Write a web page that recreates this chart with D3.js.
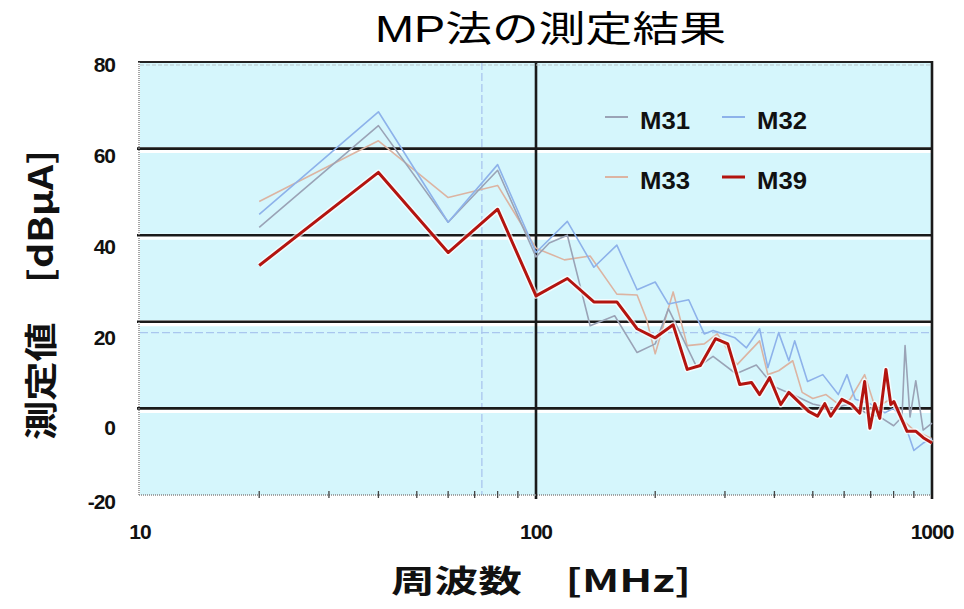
<!DOCTYPE html>
<html>
<head>
<meta charset="utf-8">
<script src="https://cdn.jsdelivr.net/npm/d3@7"></script>
<style>
  html, body { margin: 0; padding: 0; background: #ffffff; }
  svg { display: block; }
</style>
</head>
<body>
<svg id="chart" width="964" height="609"></svg>
<script>
// ---------------- DATA ----------------
const titleText = "MP法の測定結果";
const yTitle = "測定値　[dBμA]";
const xTitle = "周波数　[MHz]";

const xDomain = [10, 1000];
const yDomain = [-20, 80];
const yTickValues = [80, 60, 40, 20, 0, -20];
const yGridValues = [60, 40, 20, 0];
const xTickLabels = [10, 100, 1000];
const xMinorTicks = [20, 30, 40, 50, 60, 70, 80, 90, 200, 300, 400, 500, 600, 700, 800, 900];
const refFreq = 73;      // dashed blue vertical reference
const refLevel = 17.5;   // dashed blue horizontal reference

const seriesNames = ["M31", "M32", "M33", "M39"];

const m31Freq = [20, 40, 60, 80, 100, 108, 120, 137, 158, 180, 200, 216, 255, 280, 320, 360, 400, 450, 500, 560, 620, 680, 740, 800, 840, 855, 880, 910, 950, 1000];
const m31Val  = [41.8, 65.3, 43, 55, 35, 38.2, 40, 19.1, 21.4, 12.9, 14.9, 23, 9.4, 12, 8, 10, 5, 3, 1, 0, 1, -1, -2, -4, -2, 14.5, -2, 6.4, -5, -3.4];

const m32Freq = [20, 40, 60, 80, 100, 120, 140, 160, 180, 200, 216, 243, 266, 280, 318, 340, 367, 385, 410, 435, 450, 485, 530, 580, 610, 640, 700, 760, 800, 850, 900, 950, 1000];
const m32Val  = [44.8, 68.5, 43, 56.3, 36, 43.2, 32.6, 37.7, 27.4, 29.2, 24.1, 25.1, 17.2, 18, 16.3, 14, 18.4, 9.4, 17.5, 11, 15.6, 6.2, 7.8, 3.2, 7.8, 2.1, 1, -1, 0, -3, -9.7, -8, -7];

const m33Freq = [20, 40, 60, 80, 100, 118, 137, 160, 180, 190, 200, 222, 241, 266, 287, 322, 367, 385, 410, 445, 470, 500, 540, 580, 620, 676, 720, 780, 850, 900, 950, 1000];
const m33Val  = [47.8, 61.8, 48.7, 51.5, 37, 34.3, 35.2, 26.4, 26.2, 20.7, 12.6, 26.9, 14.5, 14.9, 17.2, 10.1, 15.6, 7.8, 8.7, 11, 3.7, 2.3, 3.2, 1, 2, 7.8, 0, 2, -3, -5, -6, -7];

const m39Freq = [20, 40, 60, 80, 100, 120, 140, 160, 180, 200, 222, 241, 260, 284, 305, 327, 350, 367, 389, 415, 435, 488, 514, 536, 555, 592, 627, 657, 676, 697, 717, 738, 765, 787, 801, 865, 911, 955, 1000];
const m39Val  = [33, 54.5, 36, 46, 26, 30, 24.6, 24.6, 18.4, 16.3, 19.3, 9, 9.9, 16.1, 14.9, 5.5, 6, 3.2, 7.1, 0.9, 3.7, -0.7, -1.8, 1.1, -1.8, 2.1, 0.9, -1.1, 6.2, -4.6, 1.1, -2.3, 9, 0.9, 1.6, -5.3, -5.3, -6.9, -8];

const seriesColors = ["#9aa3b6", "#8db2ea", "#dcb4a2", "#b3140f"];
const seriesWidths = [1.6, 1.6, 1.6, 3];

// ---------------- LAYOUT ----------------
const svg = d3.select("#chart");
const plot = { left: 140, right: 932, top: 62, bottom: 495 };

const x = d3.scaleLog().domain(xDomain).range([plot.left, plot.right]);
const y = d3.scaleLinear().domain(yDomain).range([plot.bottom, plot.top]);
// tick labels in the original sit slightly off their gridlines
const yLabel = d3.scaleLinear().domain([-20, 0, 80]).range([502, 428, 65]);

// background
svg.append("rect")
  .attr("x", x(xDomain[0])).attr("y", y(yDomain[1]))
  .attr("width", x(xDomain[1]) - x(xDomain[0]))
  .attr("height", y(yDomain[0]) - y(yDomain[1]))
  .attr("fill", "#d5f6fc");

// dashed reference lines
svg.append("line")
  .attr("x1", x(xDomain[0])).attr("x2", x(xDomain[1]))
  .attr("y1", y(refLevel)).attr("y2", y(refLevel))
  .attr("stroke", "#a9c6ee").attr("stroke-width", 1.3)
  .attr("stroke-dasharray", "8,3");
svg.append("line")
  .attr("x1", x(refFreq)).attr("x2", x(refFreq))
  .attr("y1", y(yDomain[1])).attr("y2", y(yDomain[0]))
  .attr("stroke", "#a9c6ee").attr("stroke-width", 1.3)
  .attr("stroke-dasharray", "8,3");

// horizontal gridlines with white halo
const gridG = svg.append("g");
gridG.selectAll("line.halo").data(yGridValues).enter().append("line")
  .attr("class", "halo")
  .attr("x1", x(xDomain[0]) - 3).attr("x2", x(xDomain[1]))
  .attr("y1", d => y(d) + 1.5).attr("y2", d => y(d) + 1.5)
  .attr("stroke", "#ffffff").attr("stroke-width", 6);
gridG.selectAll("line.grid").data(yGridValues).enter().append("line")
  .attr("class", "grid")
  .attr("x1", x(xDomain[0]) - 3).attr("x2", x(xDomain[1]))
  .attr("y1", d => y(d)).attr("y2", d => y(d))
  .attr("stroke", "#1a1a1a").attr("stroke-width", 2.6);

// vertical line at 100 MHz
svg.append("line")
  .attr("x1", x(100)).attr("x2", x(100))
  .attr("y1", y(yDomain[1])).attr("y2", y(yDomain[0]) + 4)
  .attr("stroke", "#1a1a1a").attr("stroke-width", 2.6);

// borders
svg.append("line") // top
  .attr("x1", x(xDomain[0]) - 2).attr("x2", x(xDomain[1]))
  .attr("y1", y(yDomain[1])).attr("y2", y(yDomain[1]))
  .attr("stroke", "#222").attr("stroke-width", 2);
svg.append("line") // top dashed inner
  .attr("x1", x(xDomain[0])).attr("x2", x(xDomain[1]))
  .attr("y1", y(yDomain[1]) + 3).attr("y2", y(yDomain[1]) + 3)
  .attr("stroke", "#b8c4c8").attr("stroke-width", 1)
  .attr("stroke-dasharray", "4,2");
svg.append("line") // left dotted
  .attr("x1", x(xDomain[0]) - 1).attr("x2", x(xDomain[0]) - 1)
  .attr("y1", y(yDomain[1])).attr("y2", y(yDomain[0]))
  .attr("stroke", "#888").attr("stroke-width", 1.5)
  .attr("stroke-dasharray", "1,1");
svg.append("line") // bottom dotted
  .attr("x1", x(xDomain[0]) - 1).attr("x2", x(xDomain[1]))
  .attr("y1", y(yDomain[0])).attr("y2", y(yDomain[0]))
  .attr("stroke", "#888").attr("stroke-width", 1.5)
  .attr("stroke-dasharray", "1,1");
svg.append("line") // right
  .attr("x1", x(xDomain[1])).attr("x2", x(xDomain[1]))
  .attr("y1", y(yDomain[1]) - 1).attr("y2", y(yDomain[0]) + 4)
  .attr("stroke", "#1a1a1a").attr("stroke-width", 2.6);

// minor x ticks
svg.append("g").selectAll("line").data(xMinorTicks).enter().append("line")
  .attr("x1", d => x(d)).attr("x2", d => x(d))
  .attr("y1", y(yDomain[0]) - 4).attr("y2", y(yDomain[0]) + 3)
  .attr("stroke", "#444").attr("stroke-width", 1.3);

// series lines
const line = d3.line().x(d => x(d[0])).y(d => y(d[1]));
const freqs = [m31Freq, m32Freq, m33Freq, m39Freq];
const vals = [m31Val, m32Val, m33Val, m39Val];
const drawOrder = [2, 0, 1, 3];
const linesG = svg.append("g");
drawOrder.forEach(i => {
  const pts = freqs[i].map((f, k) => [f, vals[i][k]]);
  if (i === 3) {
    linesG.append("path").datum(pts)
      .attr("d", line).attr("fill", "none")
      .attr("stroke", "#ffffff").attr("stroke-opacity", 0.7)
      .attr("stroke-width", 6).attr("stroke-linejoin", "round");
  }
  linesG.append("path").datum(pts)
    .attr("d", line).attr("fill", "none")
    .attr("stroke", seriesColors[i])
    .attr("stroke-width", seriesWidths[i])
    .attr("stroke-linejoin", "round");
});

// y tick labels
svg.append("g").selectAll("text").data(yTickValues).enter().append("text")
  .attr("x", 115).attr("y", d => yLabel(d))
  .attr("dy", "0.35em")
  .attr("text-anchor", "end")
  .attr("font-family", "Liberation Sans, Arial, sans-serif")
  .attr("font-weight", "bold").attr("font-size", 21)
  .attr("letter-spacing", -1)
  .attr("fill", "#111")
  .text(d => d);

// x tick labels
svg.append("g").selectAll("text").data(xTickLabels).enter().append("text")
  .attr("x", d => x(d)).attr("y", 532)
  .attr("dy", "0.35em")
  .attr("text-anchor", "middle")
  .attr("font-family", "Liberation Sans, Arial, sans-serif")
  .attr("font-weight", "bold").attr("font-size", 21)
  .attr("letter-spacing", -1)
  .attr("fill", "#111")
  .text(d => d);

// legend
const legendG = svg.append("g");
const legendPos = [[605, 121], [722, 121], [605, 181], [722, 181]];
seriesNames.forEach((name, i) => {
  const [lx, ly] = legendPos[i];
  legendG.append("line")
    .attr("x1", lx).attr("x2", lx + 23)
    .attr("y1", ly - 4).attr("y2", ly - 4)
    .attr("stroke", seriesColors[i])
    .attr("stroke-width", i === 3 ? 3 : 2);
  legendG.append("text")
    .attr("x", lx + 35).attr("y", ly)
    .attr("dy", "0.35em")
    .attr("font-family", "Liberation Sans, Arial, sans-serif")
    .attr("font-weight", "bold")
    .attr("font-size", 23)
    .attr("textLength", 50).attr("lengthAdjust", "spacingAndGlyphs")
    .attr("fill", "#111")
    .text(name);
});

// title (horizontally stretched like the original)
svg.append("text")
  .attr("transform", "translate(375,42) scale(1.3,1)")
  .attr("font-family", "Liberation Sans, Noto Sans CJK JP, sans-serif")
  .attr("font-size", 36)
  .attr("fill", "#000")
  .text(titleText);

// y axis title
svg.append("text")
  .attr("transform", "translate(53,440) rotate(-90)")
  .attr("font-family", "Noto Sans CJK JP, sans-serif")
  .attr("font-weight", "bold")
  .attr("font-size", 33)
  .attr("textLength", 290).attr("lengthAdjust", "spacingAndGlyphs")
  .attr("fill", "#111")
  .text(yTitle);

// x axis title
svg.append("text")
  .attr("x", 391).attr("y", 592)
  .attr("font-family", "Noto Sans CJK JP, sans-serif")
  .attr("font-weight", "bold")
  .attr("font-size", 31)
  .attr("textLength", 300).attr("lengthAdjust", "spacingAndGlyphs")
  .attr("fill", "#111")
  .text(xTitle);
</script>
</body>
</html>
